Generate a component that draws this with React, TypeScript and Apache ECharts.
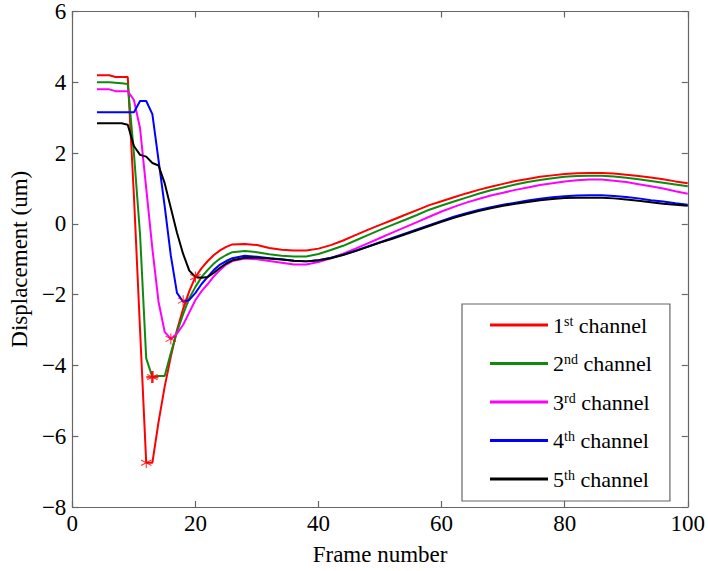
import React, { useEffect, useRef } from "react";
import * as echarts from "echarts";

const seriesNames = ["1st channel", "2nd channel", "3rd channel", "4th channel", "5th channel"];
const legendLabels: [string, string][] = [["1", "st"], ["2", "nd"], ["3", "rd"], ["4", "th"], ["5", "th"]];
const colors = ["#ff0000", "#0f8a0f", "#ff00ff", "#0000ff", "#000000"];

const ch1: [number, number][] = [
  [4, 4.2], [5, 4.2], [6, 4.2], [7, 4.15], [8, 4.15], [9, 4.15], [10, 0.8], [11, -3.0], [12, -6.75], [13, -6.75],
  [14, -5.6], [15, -4.6], [16, -3.75], [17, -3.0], [18, -2.4], [19, -1.9], [20, -1.5], [21, -1.25], [22, -1.05],
  [23, -0.88], [24, -0.75], [25, -0.65], [26, -0.58], [28, -0.57], [30, -0.6], [32, -0.68], [34, -0.73], [36, -0.75],
  [38, -0.75], [40, -0.7], [42, -0.6], [44, -0.47], [46, -0.32], [48, -0.17], [50, -0.03], [52, 0.11], [54, 0.25],
  [56, 0.39], [58, 0.53], [60, 0.64], [62, 0.75], [64, 0.86], [66, 0.96], [68, 1.05], [70, 1.13], [72, 1.21],
  [74, 1.27], [76, 1.33], [78, 1.37], [80, 1.41], [82, 1.43], [84, 1.44], [86, 1.44], [88, 1.42], [90, 1.39],
  [92, 1.35], [94, 1.31], [96, 1.26], [98, 1.2], [100, 1.15],
];
const ch2: [number, number][] = [
  [4, 4.0], [6, 4.0], [8, 3.97], [9, 3.95], [10, 2.0], [11, -0.3], [12, -3.8], [13, -4.33], [14, -4.3], [15, -4.3],
  [16, -3.65], [17, -3.05], [18, -2.55], [19, -2.1], [20, -1.78], [21, -1.5], [22, -1.3], [23, -1.12], [24, -0.98],
  [25, -0.88], [26, -0.8], [28, -0.77], [30, -0.8], [32, -0.86], [34, -0.9], [36, -0.92], [38, -0.92], [40, -0.85],
  [42, -0.74], [44, -0.62], [46, -0.47], [48, -0.32], [50, -0.17], [52, -0.03], [54, 0.11], [56, 0.25], [58, 0.4],
  [60, 0.52], [62, 0.63], [64, 0.74], [66, 0.85], [68, 0.95], [70, 1.03], [72, 1.11], [74, 1.18], [76, 1.24],
  [78, 1.29], [80, 1.33], [82, 1.35], [84, 1.36], [86, 1.36], [88, 1.34], [90, 1.3], [92, 1.26], [94, 1.21],
  [96, 1.16], [98, 1.11], [100, 1.06],
];
const ch3: [number, number][] = [
  [4, 3.8], [6, 3.8], [7, 3.75], [9, 3.75], [10, 3.5], [11, 2.7], [12, 1.0], [13, -0.7], [14, -2.2], [15, -3.05],
  [16, -3.25], [17, -3.1], [18, -2.85], [19, -2.5], [20, -2.15], [21, -1.9], [22, -1.7], [23, -1.48], [24, -1.3],
  [25, -1.15], [26, -1.05], [28, -0.98], [30, -1.0], [32, -1.05], [34, -1.1], [36, -1.15], [38, -1.15], [40, -1.08],
  [42, -0.97], [44, -0.84], [46, -0.7], [48, -0.55], [50, -0.4], [52, -0.25], [54, -0.1], [56, 0.05], [58, 0.2],
  [60, 0.35], [62, 0.48], [64, 0.6], [66, 0.7], [68, 0.8], [70, 0.88], [72, 0.96], [74, 1.03], [76, 1.1], [78, 1.15],
  [80, 1.2], [82, 1.23], [84, 1.25], [86, 1.25], [88, 1.22], [90, 1.18], [92, 1.12], [94, 1.06], [96, 1.0],
  [98, 0.92], [100, 0.85],
];
const ch4: [number, number][] = [
  [4, 3.15], [6, 3.15], [8, 3.15], [10, 3.15], [11, 3.47], [12, 3.47], [13, 3.1], [14, 1.8], [15, 0.5], [16, -0.9],
  [17, -1.95], [18, -2.2], [19, -2.15], [20, -1.95], [21, -1.7], [22, -1.5], [23, -1.3], [24, -1.15], [25, -1.05],
  [26, -0.97], [28, -0.9], [30, -0.93], [32, -0.97], [34, -1.0], [36, -1.04], [38, -1.06], [40, -1.03], [42, -0.96],
  [44, -0.87], [46, -0.76], [48, -0.64], [50, -0.52], [52, -0.4], [54, -0.28], [56, -0.16], [58, -0.04], [60, 0.08],
  [62, 0.2], [64, 0.3], [66, 0.39], [68, 0.47], [70, 0.54], [72, 0.6], [74, 0.66], [76, 0.71], [78, 0.75], [80, 0.78],
  [82, 0.8], [84, 0.81], [86, 0.81], [88, 0.79], [90, 0.76], [92, 0.72], [94, 0.67], [96, 0.63], [98, 0.58], [100, 0.54],
];
const ch5: [number, number][] = [
  [4, 2.84], [6, 2.84], [8, 2.84], [9, 2.8], [10, 2.2], [11, 1.95], [12, 1.9], [13, 1.72], [14, 1.65], [15, 1.15],
  [16, 0.45], [17, -0.25], [18, -0.85], [19, -1.32], [20, -1.5], [21, -1.52], [22, -1.5], [23, -1.38], [24, -1.24],
  [25, -1.12], [26, -1.03], [28, -0.96], [30, -0.96], [32, -0.98], [34, -1.01], [36, -1.04], [38, -1.06], [40, -1.03],
  [42, -0.97], [44, -0.88], [46, -0.77], [48, -0.65], [50, -0.53], [52, -0.42], [54, -0.3], [56, -0.18], [58, -0.06],
  [60, 0.06], [62, 0.17], [64, 0.27], [66, 0.36], [68, 0.44], [70, 0.51], [72, 0.57], [74, 0.62], [76, 0.67],
  [78, 0.7], [80, 0.73], [82, 0.74], [84, 0.74], [86, 0.74], [88, 0.72], [90, 0.69], [92, 0.65], [94, 0.61],
  [96, 0.57], [98, 0.54], [100, 0.51],
];
const minima: [number, number][] = [[12, -6.75], [13, -4.33], [16, -3.25], [18, -2.17], [20, -1.5]];

const xTicks = [0, 20, 40, 60, 80, 100];
const yTicks = [-8, -6, -4, -2, 0, 2, 4, 6];

const STAR =
  "path://M-0.09,-1L0.09,-1L0.09,1L-0.09,1ZM-0.91,-0.42L-0.82,-0.58L0.91,0.42L0.82,0.58ZM-0.91,0.42L-0.82,0.58L0.91,-0.42L0.82,-0.58Z";

const FONT = "'Liberation Serif', 'Times New Roman', Times, serif";

export default function App() {
  const ref = useRef<HTMLDivElement>(null);
  useEffect(() => {
    if (!ref.current) return;
    const chart = echarts.init(ref.current, null, { renderer: "svg" });
    const data = [ch1, ch2, ch3, ch4, ch5];
    const fmt = (v: number) => String(v).replace("-", "\u2212");
    const axisLine = { show: true, onZero: false, lineStyle: { color: "#666", width: 1.2 } };
    const axisTick = { show: true, inside: true, length: 6, lineStyle: { color: "#666", width: 1.2 } };
    chart.setOption({
      animation: false,
      backgroundColor: "#fff",
      grid: { left: 62, right: 18, top: 8, bottom: 63, containLabel: false },
      legend: {
        orient: "vertical",
        left: 462,
        top: 304,
        padding: [10, 18, 9, 28],
        backgroundColor: "#fff",
        borderColor: "#666",
        borderWidth: 1.2,
        borderRadius: 0,
        itemWidth: 58,
        itemHeight: 3,
        itemGap: 14.5,
        icon: "rect",
        data: seriesNames,
        formatter: (name: string) => {
          const i = seriesNames.indexOf(name);
          const [n, s] = legendLabels[i];
          return `${n}{sup|${s}} channel`;
        },
        textStyle: {
          fontFamily: FONT,
          fontSize: 22,
          color: "#000",
          lineHeight: 22,
          rich: {
            sup: { fontFamily: FONT, fontSize: 14, verticalAlign: "top", lineHeight: 22, padding: [0, 0, 10, 0], color: "#000" },
          },
        },
      },
      xAxis: [
        {
          type: "value",
          min: 0,
          max: 100,
          interval: 20,
          axisLine,
          axisTick,
          splitLine: { show: false },
          axisLabel: { fontFamily: FONT, fontSize: 23, color: "#000", margin: 5, formatter: fmt },
          name: "Frame number",
          nameLocation: "middle",
          nameGap: 36,
          nameTextStyle: { fontFamily: FONT, fontSize: 23, color: "#000" },
        },
        {
          type: "value",
          position: "top",
          min: 0,
          max: 100,
          interval: 20,
          axisLine,
          axisTick,
          splitLine: { show: false },
          axisLabel: { show: false },
        },
      ],
      yAxis: [
        {
          type: "value",
          min: -8,
          max: 6,
          interval: 2,
          axisLine,
          axisTick,
          splitLine: { show: false },
          axisLabel: { fontFamily: FONT, fontSize: 23, color: "#000", margin: 6, formatter: fmt },
          name: "Displacement (um)",
          nameLocation: "middle",
          nameGap: 38,
          nameRotate: 90,
          nameTextStyle: { fontFamily: FONT, fontSize: 23, color: "#000" },
        },
        {
          type: "value",
          position: "right",
          min: -8,
          max: 6,
          interval: 2,
          axisLine,
          axisTick,
          splitLine: { show: false },
          axisLabel: { show: false },
        },
      ],
      series: [
        ...data.map((d, i) => ({
          name: seriesNames[i],
          type: "line",
          data: d,
          showSymbol: false,
          symbol: "none",
          lineStyle: { color: colors[i], width: 2 },
          itemStyle: { color: colors[i] },
          z: 2 + i,
        })),
        {
          name: "minima",
          type: "scatter",
          data: minima,
          symbol: STAR,
          symbolSize: 11,
          itemStyle: { color: "#ff0000" },
          z: 10,
        },
        {
          name: "minima-bold",
          type: "scatter",
          data: [minima[1]],
          symbol: "path://M-0.22,-1L0.22,-1L0.22,1L-0.22,1ZM-1,-0.22L1,-0.22L1,0.22L-1,0.22Z",
          symbolSize: 12,
          itemStyle: { color: "#ff0000" },
          z: 11,
        },
      ],
    });
    return () => chart.dispose();
  }, []);
  return <div ref={ref} style={{ width: 708, height: 571, position: "absolute", left: 0, top: 0 }} />;
}
